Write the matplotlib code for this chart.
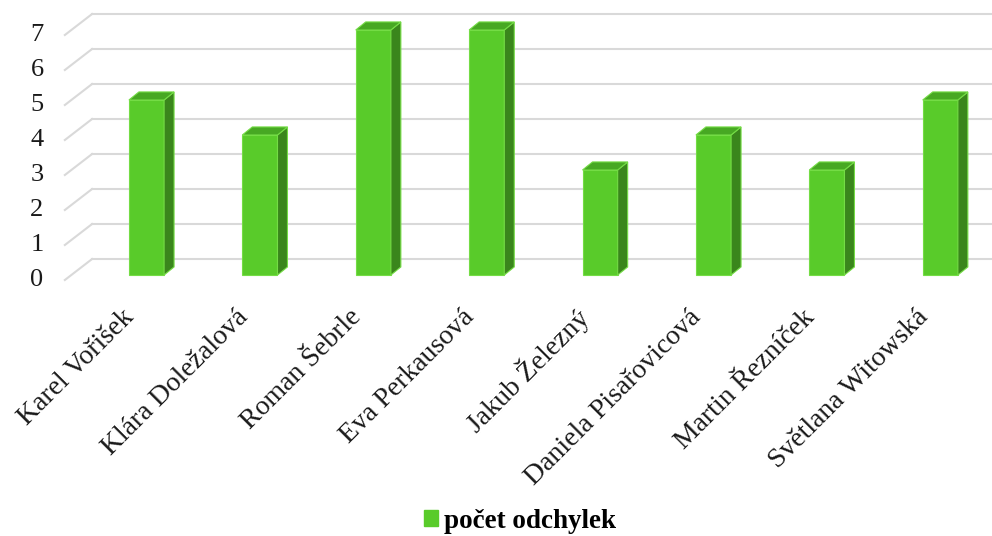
import matplotlib
matplotlib.use("Agg")
import matplotlib.pyplot as plt
from matplotlib.patches import Patch

names = ["Karel Vořišek", "Klára Doležalová", "Roman Šebrle", "Eva Perkausová",
         "Jakub Železný", "Daniela Pisařovicová", "Martin Řezníček", "Světlana Witowská"]
values = [5, 4, 7, 7, 3, 4, 3, 5]
yticks = [0, 1, 2, 3, 4, 5, 6, 7]
series_name = "počet odchylek"

plt.rcParams['font.family'] = ['Liberation Serif', 'DejaVu Serif']

FRONT = "#59CB2A"
SIDE = "#3A861C"
TOP = "#47A823"
EDGE = "#74DC45"
GRID = "#D9D9D9"

# pseudo-3d geometry (data units)
bar_w = 0.31
dx, dy = 0.088, 0.23
back_x, back_dy = -0.48, 0.457
front_x, front_dy = -0.72, -0.143

fig = plt.figure(figsize=(9.92, 5.36), dpi=100)
ax = fig.add_axes([0, 0, 1, 1])
ax.set_xlim(-1.292, 7.456)
ax.set_ylim(-7.457, 7.857)
ax.axis('off')

# walls / gridlines
for v in yticks:
    ax.plot([front_x, back_x], [v + front_dy, v + back_dy], color=GRID, lw=1.5, zorder=1)
    ax.plot([back_x, 7.456], [v + back_dy, v + back_dy], color=GRID, lw=1.5, zorder=1)
    ax.text(-0.966, v + front_dy, str(v), ha='center', va='center', fontsize=19, color='#1a1a1a')

# bars
for i, v in enumerate(values):
    x0, x1 = i - bar_w / 2, i + bar_w / 2
    ax.fill([x0, x1, x1, x0], [0, 0, v, v], color=FRONT, ec=EDGE, lw=0.8, zorder=3)
    ax.fill([x1, x1 + dx, x1 + dx, x1], [0, dy, v + dy, v], color=SIDE, ec=EDGE, lw=0.8, zorder=3)
    ax.fill([x0, x1, x1 + dx, x0 + dx], [v, v, v + dy, v + dy], color=TOP, ec=EDGE, lw=0.8, zorder=3)

# category labels
for i, name in enumerate(names):
    ax.text(i - 0.14, -1.1, name, rotation=45, rotation_mode='anchor',
            ha='right', va='center', fontsize=20, color='#1a1a1a')

fig.legend(handles=[Patch(color=FRONT, label=series_name)], loc='center',
           bbox_to_anchor=(0.524, 1 - 521 / 536), frameon=False,
           handlelength=0.55, handleheight=0.55, handletextpad=0.2,
           prop={'weight': 'bold', 'size': 19.5, 'family': 'Liberation Serif'})

fig.savefig("out.png", dpi=100)
